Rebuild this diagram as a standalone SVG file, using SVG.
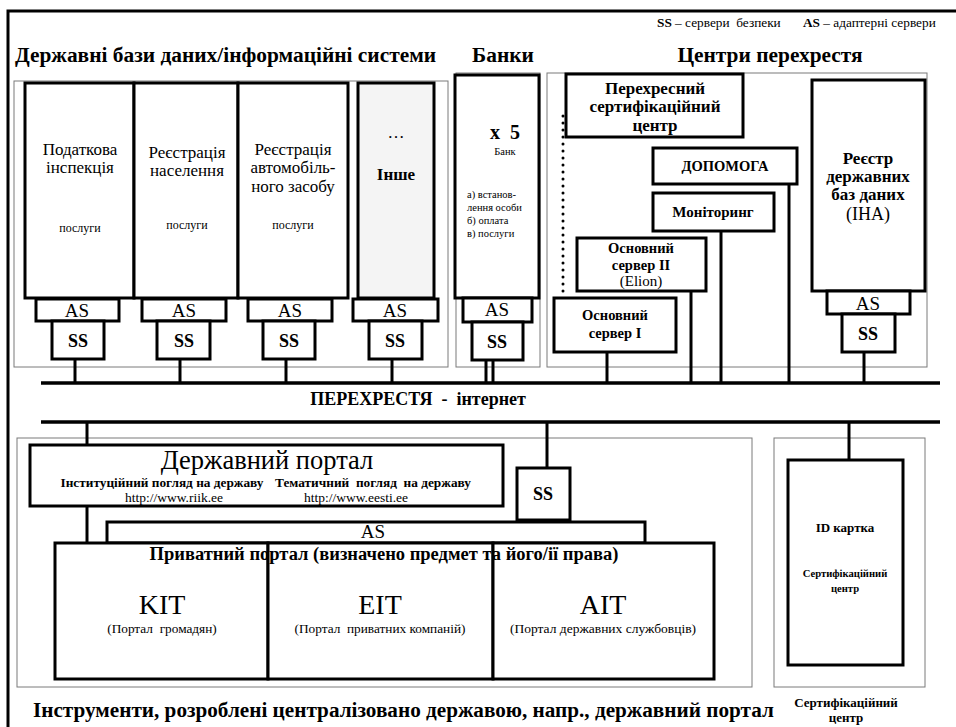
<svg xmlns="http://www.w3.org/2000/svg" width="956" height="727" viewBox="0 0 956 727" font-family="'Liberation Serif', serif">
<style>
text{font-family:'Liberation Serif', serif;fill:#000}
.b{font-weight:bold}
.m{text-anchor:middle}
.thin{fill:none;stroke:#7a7a7a;stroke-width:1}
.box{fill:#fff;stroke:#000;stroke-width:3}
.ln{stroke:#000;stroke-width:3;fill:none}
.bus{stroke:#000;stroke-width:3.5;fill:none}
.dot{stroke:#000;stroke-width:3;stroke-linecap:round;stroke-dasharray:0 7;fill:none}
</style>
<rect x="0" y="0" width="956" height="727" fill="#fff"/>
<rect x="8" y="11" width="970" height="740" fill="none" stroke="#000" stroke-width="3"/>

<g id="legend">
<text x="657" y="27" font-size="13.3" xml:space="preserve"><tspan class="b">SS</tspan> – сервери  безпеки</text>
<text x="803" y="27" font-size="13.3"><tspan class="b">AS</tspan> – адаптерні сервери</text>
</g>

<g id="titles">
<text x="15" y="62" font-size="21.4" class="b">Державні бази даних/інформаційні системи</text>
<text x="503" y="62" font-size="21.4" class="b m">Банки</text>
<text x="770" y="62" font-size="21.4" class="b m">Центри перехрестя</text>
<text x="418" y="405" font-size="18" class="b m" xml:space="preserve">ПЕРЕХРЕСТЯ  -  інтернет</text>
<text x="33" y="717" font-size="21.2" class="b">Інструменти, розроблені централізовано державою, напр., державний портал</text>
<text x="846" y="707" font-size="13" class="b m">Сертифікаційний</text>
<text x="846" y="722" font-size="13" class="b m">центр</text>
</g>

<g id="containers">
<rect class="thin" x="14" y="81" width="434" height="286"/>
<rect class="thin" x="456" y="73" width="84" height="294"/>
<rect class="thin" x="547" y="73" width="380" height="294"/>
<rect class="thin" x="17" y="438" width="735" height="249"/>
<rect class="thin" x="774" y="438" width="151" height="249"/>
</g>

<g id="connectors">
<line class="bus" x1="41" y1="383" x2="940" y2="383"/>
<line class="bus" x1="41" y1="422" x2="940" y2="422"/>
<line class="ln" x1="75" y1="359" x2="75" y2="383"/>
<line class="ln" x1="180" y1="359" x2="180" y2="383"/>
<line class="ln" x1="286" y1="359" x2="286" y2="383"/>
<line class="ln" x1="392" y1="359" x2="392" y2="383"/>
<line class="ln" x1="486" y1="360" x2="486" y2="383"/>
<line class="ln" x1="493" y1="360" x2="493" y2="383"/>
<line class="ln" x1="607" y1="352" x2="607" y2="383"/>
<line class="ln" x1="691" y1="291" x2="691" y2="383"/>
<line class="ln" x1="721" y1="231" x2="721" y2="383"/>
<line class="ln" x1="789" y1="184" x2="789" y2="383"/>
<line class="ln" x1="864" y1="352" x2="864" y2="383"/>
<line class="dot" x1="563" y1="116" x2="563" y2="292"/>
<line class="ln" x1="87" y1="422" x2="87" y2="543"/>
<line class="ln" x1="547" y1="422" x2="547" y2="468"/>
<line class="ln" x1="849" y1="422" x2="849" y2="460"/>
</g>

<g id="tax">
<rect class="box" x="25" y="83" width="109" height="215"/>
<text x="80" y="155" font-size="17" class="m">Податкова</text>
<text x="80" y="173" font-size="17" class="m">інспекція</text>
<text x="80" y="232" font-size="12" class="m">послуги</text>
<rect class="box" x="36" y="299" width="83" height="22"/>
<text x="77" y="317" font-size="19" class="m">AS</text>
<rect class="box" x="52" y="321" width="52" height="38"/>
<text x="78" y="347" font-size="18" class="b m">SS</text>
</g>

<g id="population">
<rect class="box" x="134" y="83" width="104" height="215"/>
<text x="187" y="158" font-size="17" class="m">Реєстрація</text>
<text x="187" y="176" font-size="17" class="m">населення</text>
<text x="187" y="229" font-size="12" class="m">послуги</text>
<rect class="box" x="142" y="299" width="84" height="22"/>
<text x="184" y="317" font-size="19" class="m">AS</text>
<rect class="box" x="157" y="321" width="53" height="38"/>
<text x="184" y="347" font-size="18" class="b m">SS</text>
</g>

<g id="vehicle">
<rect class="box" x="238" y="83" width="110" height="215"/>
<text x="293" y="155" font-size="17" class="m">Реєстрація</text>
<text x="293" y="173" font-size="17" class="m">автомобіль-</text>
<text x="293" y="192" font-size="17" class="m">ного засобу</text>
<text x="293" y="229" font-size="12" class="m">послуги</text>
<rect class="box" x="248" y="299" width="84" height="22"/>
<text x="290" y="317" font-size="19" class="m">AS</text>
<rect class="box" x="263" y="321" width="52" height="38"/>
<text x="289" y="347" font-size="18" class="b m">SS</text>
</g>

<g id="other">
<rect class="box" x="358" y="83" width="76" height="215" style="fill:#f4f4f4"/>
<text x="396" y="138" font-size="17" class="m">…</text>
<text x="396" y="180" font-size="17" class="b m">Інше</text>
<rect class="box" x="353" y="299" width="85" height="22"/>
<text x="395" y="317" font-size="19" class="m">AS</text>
<rect class="box" x="369" y="321" width="53" height="38"/>
<text x="395" y="347" font-size="18" class="b m">SS</text>
</g>

<g id="bank">
<rect class="box" x="455" y="75" width="84" height="223"/>
<text x="505" y="139" font-size="20" class="b m" xml:space="preserve">x  5</text>
<text x="505" y="155" font-size="10.5" class="m">Банк</text>
<text x="467" y="198" font-size="10.5">а) встанов-</text>
<text x="467" y="211" font-size="10.5">лення особи</text>
<text x="467" y="224" font-size="10.5">б) оплата</text>
<text x="467" y="237" font-size="10.5">в) послуги</text>
<rect class="box" x="463" y="298" width="69" height="24"/>
<text x="497" y="316" font-size="19" class="m">AS</text>
<rect class="box" x="472" y="322" width="51" height="38"/>
<text x="497" y="348" font-size="18" class="b m">SS</text>
</g>

<g id="crosscert">
<rect class="box" x="566" y="74" width="177" height="63"/>
<text x="655" y="94" font-size="17" class="b m">Перехресний</text>
<text x="655" y="112" font-size="17" class="b m">сертифікаційний</text>
<text x="655" y="131" font-size="17" class="b m">центр</text>
</g>

<g id="help">
<rect class="box" x="653" y="148" width="144" height="36"/>
<text x="725" y="171" font-size="14.5" class="b m">ДОПОМОГА</text>
</g>

<g id="monitoring">
<rect class="box" x="653" y="193" width="121" height="38"/>
<text x="713" y="217" font-size="15" class="b m">Моніторинг</text>
</g>

<g id="server2">
<rect class="box" x="577" y="238" width="129" height="53"/>
<text x="641" y="253" font-size="14.5" class="b m">Основний</text>
<text x="641" y="270" font-size="14.5" class="b m">сервер II</text>
<text x="641" y="286" font-size="15" class="m">(Elion)</text>
</g>

<g id="server1">
<rect class="box" x="554" y="298" width="122" height="54"/>
<text x="615" y="320" font-size="14.5" class="b m">Основний</text>
<text x="615" y="338" font-size="14.5" class="b m">сервер I</text>
</g>

<g id="registry">
<rect class="box" x="812" y="80" width="113" height="211"/>
<text x="868" y="164" font-size="17" class="b m">Реєстр</text>
<text x="868" y="182" font-size="17" class="b m">державних</text>
<text x="868" y="200" font-size="17" class="b m">баз даних</text>
<text x="868" y="220" font-size="18" class="m">(ІНА)</text>
<rect class="box" x="827" y="291" width="83" height="23"/>
<text x="868" y="310" font-size="19" class="m">AS</text>
<rect class="box" x="842" y="314" width="53" height="38"/>
<text x="868" y="340" font-size="18" class="b m">SS</text>
</g>

<g id="stateportal">
<rect class="box" x="30" y="445" width="473" height="61"/>
<text x="267" y="469" font-size="26.5" class="m">Державний портал</text>
<text x="162" y="487" font-size="13.3" class="b m">Інституційний погляд на державу</text>
<text x="373" y="487" font-size="13.3" class="b m" xml:space="preserve">Тематичний  погляд  на державу</text>
<text x="174" y="502" font-size="13.5" class="m">http://www.riik.ee</text>
<text x="356" y="502" font-size="13.5" class="m">http://www.eesti.ee</text>
</g>

<g id="portalss">
<rect class="box" x="517" y="468" width="53" height="52"/>
<text x="543" y="500" font-size="18" class="b m">SS</text>
</g>

<g id="portalas">
<rect class="box" x="107" y="522" width="538" height="21"/>
<text x="373" y="538" font-size="19" class="m">AS</text>
</g>

<g id="privateportal">
<rect class="box" x="55" y="543" width="213" height="136"/>
<rect class="box" x="268" y="543" width="225" height="136"/>
<rect class="box" x="493" y="543" width="221" height="136"/>
<text x="384" y="560" font-size="18.5" class="b m">Приватний портал (визначено предмет та його/ії права)</text>
<text x="162" y="614" font-size="28" class="m">KIT</text>
<text x="162" y="633" font-size="13.3" class="m" xml:space="preserve">(Портал  громадян)</text>
<text x="380" y="614" font-size="28" class="m">EIT</text>
<text x="380" y="633" font-size="13.3" class="m" xml:space="preserve">(Портал  приватних компаній)</text>
<text x="603" y="614" font-size="28" class="m">AIT</text>
<text x="603" y="633" font-size="13.5" class="m">(Портал державних службовців)</text>
</g>

<g id="idcard">
<rect class="box" x="788" y="460" width="115" height="205"/>
<text x="845" y="532" font-size="13" class="b m">ID картка</text>
<text x="845" y="577" font-size="10.6" class="b m">Сертифікаційний</text>
<text x="845" y="592" font-size="10.6" class="b m">центр</text>
</g>
</svg>
